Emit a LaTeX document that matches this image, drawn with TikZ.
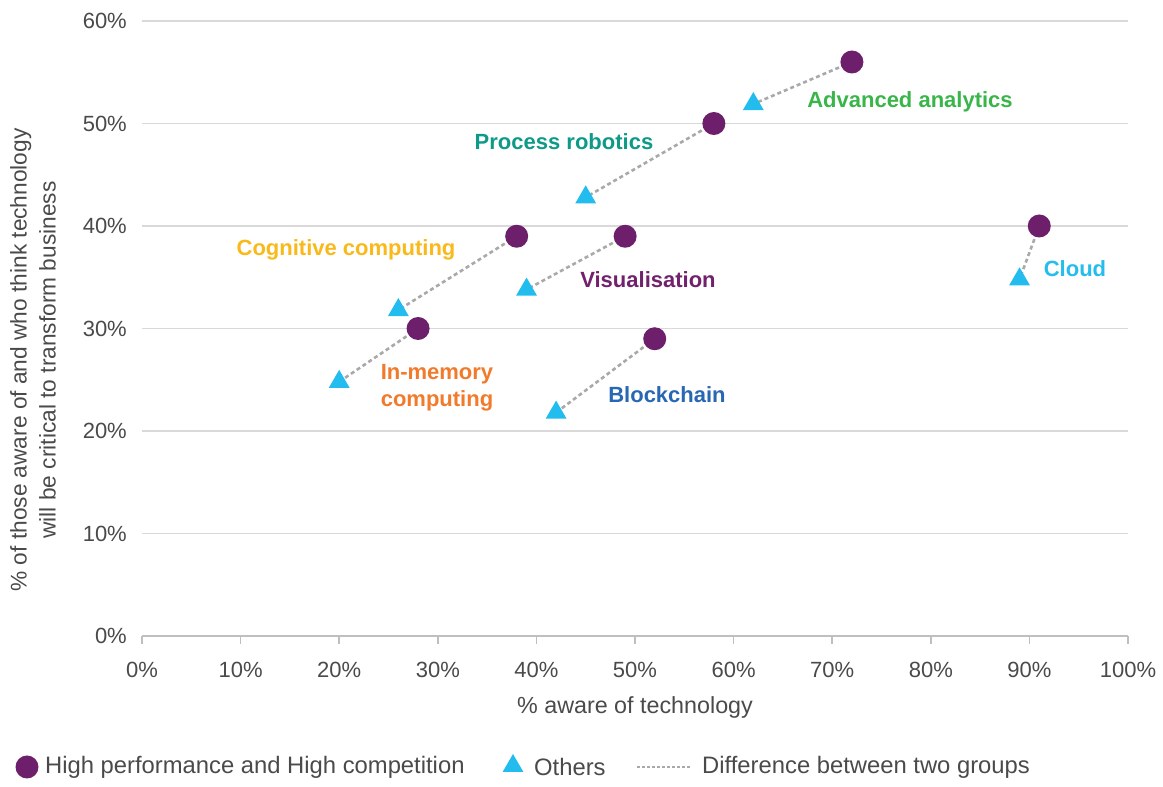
\documentclass[tikz,border=0pt]{standalone}
\usepackage{fontspec}
\setmainfont{Liberation Sans}
\usetikzlibrary{shapes.geometric,backgrounds}
\definecolor{hpc}{HTML}{6E1F6B}
\definecolor{oth}{HTML}{22BDEE}
\definecolor{gridc}{HTML}{D9D9D9}
\definecolor{axisc}{HTML}{BFBFBF}
\definecolor{txt}{HTML}{4A4A4A}
\definecolor{diffc}{HTML}{A9A9A9}
\definecolor{cgreen}{HTML}{3AB54A}
\definecolor{cteal}{HTML}{0D9A88}
\definecolor{cyellow}{HTML}{F9B91A}
\definecolor{cpurple}{HTML}{72216C}
\definecolor{corange}{HTML}{F27A2B}
\definecolor{cblue}{HTML}{2767B3}
\definecolor{ccyan}{HTML}{25BCEE}
\tikzset{
  hpcmark/.style={circle,fill=hpc,inner sep=0pt,minimum size=23pt},
  othmark/.style={regular polygon,regular polygon sides=3,fill=oth,inner sep=0pt,minimum size=24pt},
  diffline/.style={draw=diffc,line width=2.6pt,dash pattern=on 4pt off 3pt},
  ticklab/.style={text=txt,font=\fontsize{22}{26}\selectfont,inner sep=0pt},
  techlab/.style={font=\fontsize{22}{27}\selectfont\bfseries,inner sep=0pt,align=center},
  legtext/.style={text=txt,font=\fontsize{23.8}{28}\selectfont,inner sep=0pt,anchor=west},
}
\begin{document}
\begin{tikzpicture}[x=1pt,y=1pt]
\useasboundingbox (0,0) rectangle (1163,787);
\begin{scope}[shift={(142,151)},x=9.86pt,y=10.25pt]
  % grid and axis
  \begin{scope}[on background layer]
  \foreach \q in {1,...,6} \draw[gridc,line width=1.3pt] (0,\q*10) -- (100,\q*10);
  \draw[axisc,line width=1.5pt] (0,0) -- (100,0);
  \foreach \p in {0,10,...,100} \draw[axisc,line width=1.5pt] (\p,0) -- ++(0,-8pt);
  \end{scope}
  % tick labels
  \foreach \q in {0,10,...,60} \node[ticklab,anchor=east] (yl\q) at ([xshift=-15pt]0,\q) {\q\%};
  \foreach \p in {0,10,...,100} \node[ticklab] (xl\p) at ([yshift=-34pt]\p,0) {\p\%};
  % markers
  \node[hpcmark] (c1) at (72,56) {};
  \node[othmark] (t1) at (62,51.9) {};
  \node[hpcmark] (c2) at (58,50) {};
  \node[othmark] (t2) at (45,42.8) {};
  \node[hpcmark] (c3) at (38,39) {};
  \node[othmark] (t3) at (26,31.8) {};
  \node[hpcmark] (c4) at (49,39) {};
  \node[othmark] (t4) at (39,33.8) {};
  \node[hpcmark] (c5) at (28,30) {};
  \node[othmark] (t5) at (20,24.8) {};
  \node[hpcmark] (c6) at (52,29) {};
  \node[othmark] (t6) at (42,21.8) {};
  \node[hpcmark] (c7) at (91,40) {};
  \node[othmark] (t7) at (89,34.8) {};
\end{scope}
% difference lines behind markers
\begin{scope}[on background layer]
\foreach \i in {1,...,7} \draw[diffline] (c\i.center) -- (t\i.center);
\end{scope}
% technology labels
\node[techlab,text=cgreen] (l1) at (910,685) {Advanced analytics};
\node[techlab,text=cteal] (l2) at (564,645) {Process robotics};
\node[techlab,text=cyellow] (l3) at (346,537) {Cognitive computing};
\node[techlab,text=cpurple] (l4) at (648,507) {Visualisation};
\node[techlab,text=corange] (l5) at (437,399) {In-memory\\computing};
\node[techlab,text=cblue] (l6) at (667,392) {Blockchain};
\node[techlab,text=ccyan] (l7) at (1075,518) {Cloud};
% axis titles
\node[ticklab,font=\fontsize{23.3}{27}\selectfont] (xt) at (635,80) {\% aware of technology};
\node[ticklab,font=\fontsize{22.7}{29}\selectfont,align=center,rotate=90] (yt) at (33,427) {\% of those aware of and who think technology\\will be critical to transform business};
% legend
\node[hpcmark] (lg1) at (27,20) {};
\node[legtext] (lg1t) at (45,20) {High performance and High competition};
\node[othmark] (lg2) at (513,21) {};
\node[legtext] (lg2t) at (534,20) {Others};
\coordinate (lg3a) at (637,20);
\coordinate (lg3b) at (690,20);
\draw[draw=diffc,line width=2pt,dash pattern=on 3pt off 2pt] (lg3a) -- (lg3b);
\node[legtext] (lg3t) at (702,20) {Difference between two groups};
\end{tikzpicture}
\end{document}
